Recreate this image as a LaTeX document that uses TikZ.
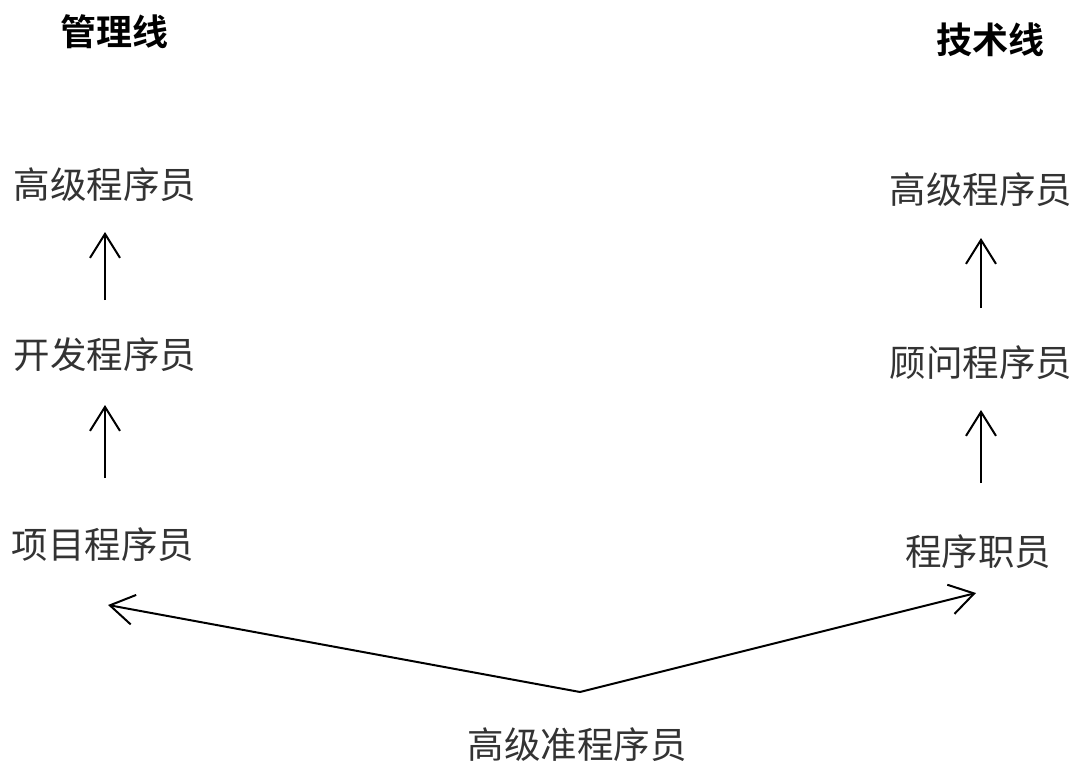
\documentclass[tikz,border=0pt]{standalone}
\usepackage{fontspec}
\newfontfamily\cjk{Noto Sans CJK SC}
\newfontfamily\cjkb{Noto Sans CJK SC Bold}
\usetikzlibrary{arrows.meta}
\begin{document}
\begin{tikzpicture}[x=1pt,y=-1pt,
  lbl/.style={font=\cjk\fontsize{36.5}{40}\selectfont, inner sep=0pt, text=black!80},
  hdr/.style={font=\cjkb\fontsize{36}{40}\selectfont, inner sep=0pt},
  arr/.style={-{Straight Barb[length=24pt,width=30pt]}, line width=2pt}]
\useasboundingbox (0,0) rectangle (1078,765);
\node[hdr] (h1) at (114,32) {管理线};
\node[hdr] (h2) at (990,40) {技术线};
\node[lbl] (l3) at (105,185) {高级程序员};
\node[lbl] (l2) at (105,355) {开发程序员};
\node[lbl] (l1) at (103,545) {项目程序员};
\node[lbl] (r3) at (981,190) {高级程序员};
\node[lbl] (r2) at (981,363) {顾问程序员};
\node[lbl] (r1) at (978,552) {程序职员};
\node[lbl] (b) at (577,745) {高级准程序员};
\coordinate (j) at ([shift={(3,-53)}]b.center);
\coordinate (lt) at (108,605);
\coordinate (rt) at (976,593);
\draw[arr, shorten <=55pt, shorten >=47pt] (l2.center) -- (l3.center);
\draw[arr, shorten <=67pt, shorten >=50pt] (l1.center -| l2.center) -- (l2.center);
\draw[arr, shorten <=55pt, shorten >=48pt] (r2.center) -- (r3.center);
\draw[arr, shorten <=69pt, shorten >=47pt] (r1.center -| r2.center) -- (r2.center);
\draw[arr] (j) -- (lt);
\draw[arr] (j) -- (rt);
\end{tikzpicture}
\end{document}
